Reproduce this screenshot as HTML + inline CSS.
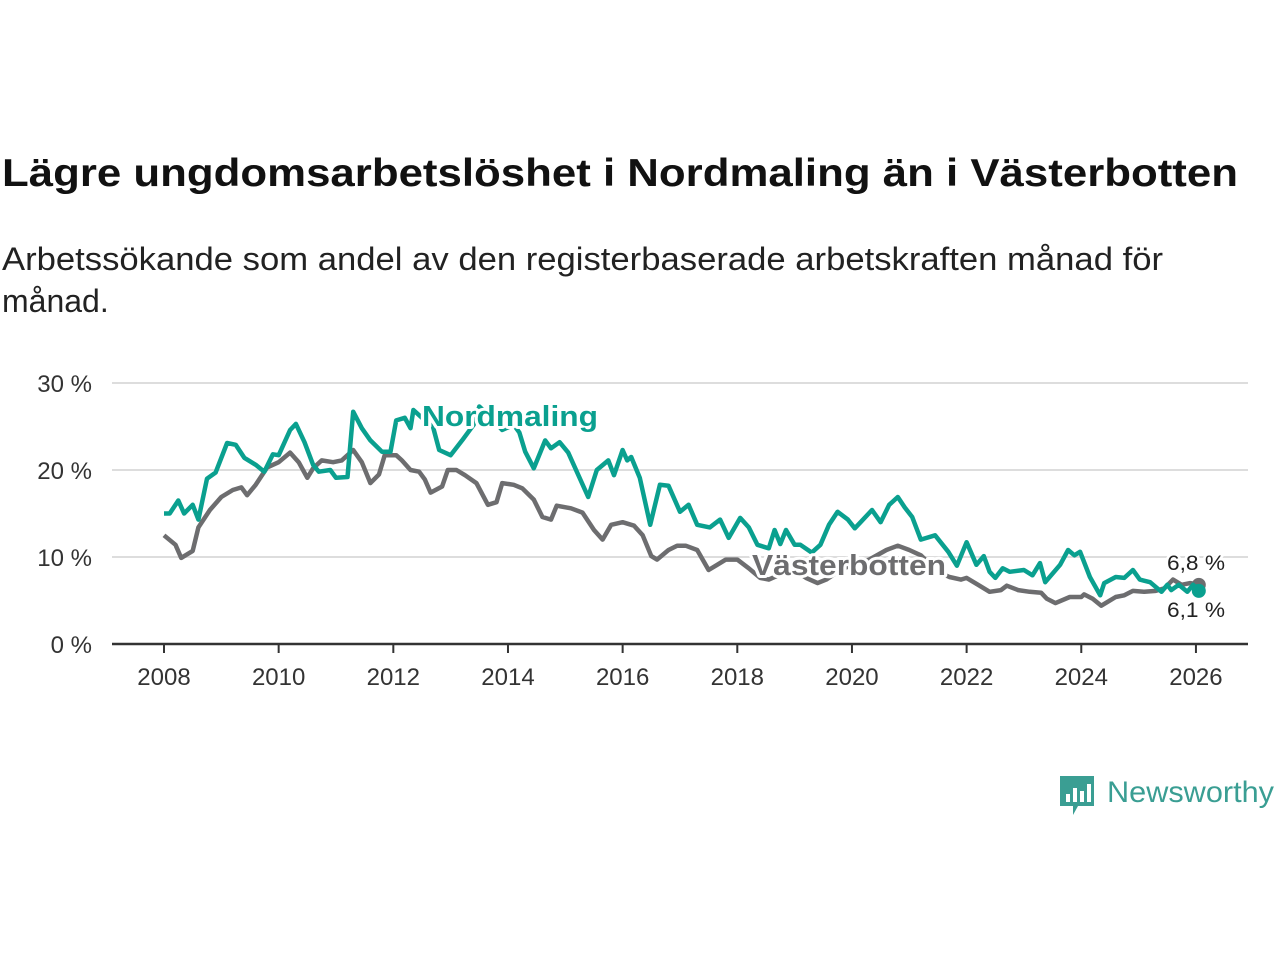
<!DOCTYPE html>
<html><head><meta charset="utf-8"><style>
body{margin:0;background:#fff;width:1280px;height:960px;overflow:hidden}
svg text{font-family:"Liberation Sans",sans-serif}
</style></head><body>
<svg width="1280" height="960">
<text x="2" y="186" font-size="39" font-weight="bold" fill="#111" textLength="1236" lengthAdjust="spacingAndGlyphs">Lägre ungdomsarbetslöshet i Nordmaling än i Västerbotten</text>
<text x="2" y="270" font-size="32" fill="#222" textLength="1161" lengthAdjust="spacingAndGlyphs">Arbetssökande som andel av den registerbaserade arbetskraften månad för</text>
<text x="2" y="312" font-size="32" fill="#222">månad.</text>
<g id="grid"></g><g id="xaxis"></g><g id="lines"></g><g id="labels"></g>
<g>
<path d="M1060 776h34v30h-16l-5 9v-9h-13z" fill="#3a9e93"/>
<rect x="1066" y="794" width="4" height="8" fill="#fff"/><rect x="1073" y="788" width="4" height="14" fill="#fff"/><rect x="1080" y="791" width="4" height="11" fill="#fff"/><rect x="1087" y="784" width="4" height="18" fill="#fff"/>
<text x="1107" y="802" font-size="30" fill="#3a9e93" textLength="167" lengthAdjust="spacingAndGlyphs">Newsworthy</text>
</g>
</svg>
<script>
const yTicks=[0,10,20,30];
const xTicks=[2008,2010,2012,2014,2016,2018,2020,2022,2024,2026];
const nordT=[2008.0,2008.1,2008.25,2008.35,2008.5,2008.6,2008.75,2008.9,2009.1,2009.25,2009.4,2009.6,2009.75,2009.9,2010.0,2010.2,2010.3,2010.45,2010.6,2010.7,2010.9,2011.0,2011.2,2011.3,2011.45,2011.6,2011.8,2011.95,2012.05,2012.2,2012.3,2012.35,2012.5,2012.65,2012.8,2013.0,2013.2,2013.4,2013.5,2013.75,2013.9,2014.1,2014.2,2014.3,2014.45,2014.65,2014.75,2014.9,2015.05,2015.4,2015.55,2015.75,2015.85,2016.0,2016.08,2016.15,2016.3,2016.48,2016.65,2016.8,2017.0,2017.15,2017.3,2017.52,2017.7,2017.85,2018.05,2018.2,2018.35,2018.55,2018.65,2018.75,2018.85,2019.0,2019.1,2019.3,2019.45,2019.6,2019.75,2019.93,2020.05,2020.15,2020.35,2020.5,2020.65,2020.8,2020.92,2021.05,2021.2,2021.45,2021.68,2021.83,2022.0,2022.17,2022.3,2022.4,2022.5,2022.63,2022.75,2023.0,2023.15,2023.28,2023.37,2023.63,2023.77,2023.88,2023.98,2024.15,2024.33,2024.4,2024.6,2024.75,2024.9,2025.02,2025.2,2025.4,2025.5,2025.57,2025.7,2025.85,2025.95,2026.05];
const nordV=[15,15,16.5,15,16,14.3,19,19.7,23.1,22.9,21.4,20.6,19.8,21.8,21.7,24.6,25.3,23.2,20.6,19.8,20,19.1,19.2,26.7,24.8,23.4,22.1,22.1,25.7,26,24.8,26.9,26,26,22.3,21.7,23.4,25.2,27.3,25.7,24.6,25.2,24.3,22.1,20.2,23.4,22.5,23.2,22,16.9,20,21.1,19.4,22.3,21.1,21.5,19.1,13.7,18.3,18.2,15.2,16,13.7,13.4,14.3,12.2,14.5,13.4,11.4,11,13.1,11.5,13.1,11.4,11.4,10.5,11.4,13.7,15.2,14.3,13.3,14,15.4,14,16,16.9,15.7,14.6,12,12.5,10.6,9,11.7,9.1,10.1,8.3,7.6,8.7,8.3,8.5,7.9,9.3,7.1,9.1,10.8,10.2,10.6,7.7,5.6,7,7.7,7.6,8.5,7.4,7.1,6,6.8,6.2,6.8,6,6.8,6.1];
const vastT=[2008.0,2008.2,2008.3,2008.5,2008.6,2008.8,2009.0,2009.2,2009.35,2009.45,2009.6,2009.8,2010.0,2010.2,2010.35,2010.5,2010.6,2010.75,2010.95,2011.1,2011.3,2011.45,2011.6,2011.75,2011.85,2012.05,2012.15,2012.3,2012.45,2012.55,2012.65,2012.85,2012.95,2013.1,2013.25,2013.45,2013.65,2013.8,2013.9,2014.1,2014.25,2014.45,2014.6,2014.75,2014.85,2015.1,2015.3,2015.5,2015.65,2015.8,2016.0,2016.2,2016.35,2016.5,2016.6,2016.8,2016.95,2017.1,2017.3,2017.5,2017.65,2017.8,2018.0,2018.2,2018.4,2018.55,2018.75,2019.0,2019.2,2019.4,2019.55,2019.8,2020.0,2020.3,2020.6,2020.8,2021.0,2021.2,2021.5,2021.7,2021.9,2022.0,2022.2,2022.4,2022.6,2022.7,2022.9,2023.1,2023.3,2023.4,2023.55,2023.8,2024.0,2024.05,2024.2,2024.35,2024.45,2024.6,2024.75,2024.9,2025.1,2025.3,2025.45,2025.6,2025.75,2025.9,2026.05];
const vastV=[12.5,11.4,9.9,10.7,13.4,15.4,16.9,17.7,18,17.1,18.3,20.3,20.9,22,20.9,19.1,20.2,21.1,20.9,21.1,22.3,20.9,18.5,19.5,21.7,21.7,21.1,20,19.8,18.9,17.4,18.1,20,20,19.4,18.5,16,16.3,18.5,18.3,17.9,16.6,14.6,14.3,15.9,15.6,15.1,13.1,12,13.7,14,13.6,12.5,10.1,9.7,10.8,11.3,11.3,10.8,8.5,9.1,9.7,9.7,8.7,7.6,7.4,8,8.5,7.6,7,7.4,8.5,9.1,9.7,10.8,11.3,10.8,10.2,8.3,7.7,7.4,7.6,6.8,6,6.2,6.7,6.2,6,5.9,5.2,4.7,5.4,5.4,5.7,5.2,4.4,4.8,5.4,5.6,6.1,6,6.1,6.4,7.4,6.8,7,6.8];
const NS="http://www.w3.org/2000/svg";
const X=t=>164+(t-2008)*57.33, Y=v=>644-v*8.7;
function mk(tag,at,parent){const e=document.createElementNS(NS,tag);for(const k in at)e.setAttribute(k,at[k]);document.getElementById(parent).appendChild(e);return e;}
yTicks.forEach(v=>{
 const l=mk('line',{x1:112,x2:1248,y1:Y(v),y2:Y(v),stroke:v?'#ddd':'#333','stroke-width':v?2:2.5},'grid');
 
 
 const t=mk('text',{x:92,y:Y(v)+9,'font-size':24,fill:'#333','text-anchor':'end'},'grid');t.textContent=v+' %';
 
 
});
xTicks.forEach(y=>{
 const l=mk('line',{x1:X(y),x2:X(y),y1:644,y2:653,stroke:'#333','stroke-width':2},'xaxis');
 
 
 const t=mk('text',{x:X(y),y:685,'font-size':24,fill:'#333','text-anchor':'middle'},'xaxis');t.textContent=y;
 
 
});
function line(T,V,c,name){
 const d=T.map((t,i)=>(i?'L':'M')+X(t).toFixed(1)+' '+Y(V[i]).toFixed(1)).join('');
 const p=mk('path',{d:d,fill:'none',stroke:c,'stroke-width':4.5,'stroke-linejoin':'round'},'lines');
 
 
 const c2=mk('circle',{cx:X(T[T.length-1]),cy:Y(V[V.length-1]),r:7,fill:c},'lines');
 
 
}
line(vastT,vastV,'#6d6d6f','vasterbotten-line');
line(nordT,nordV,'#0aa08f','nordmaling-line');
function lab(x,y,txt,c,size,bold,name,w){
 const t=mk('text',{x:x-w/2,y:y,'font-size':size,'font-weight':bold?'bold':'normal',fill:c,textLength:w,lengthAdjust:'spacingAndGlyphs',stroke:'#fff','stroke-width':bold?6:5,'paint-order':'stroke','stroke-linejoin':'round'},'labels');
 t.textContent=txt;
 
 
}
lab(510,426,'Nordmaling','#0aa08f',29,true,'nordmaling-label',176);
lab(849,575,'Västerbotten','#6d6d6f',29,true,'vasterbotten-label',194);
lab(1196,570,'6,8 %','#222',21,false,'vasterbotten-end-value',58);
lab(1196,617,'6,1 %','#222',21,false,'nordmaling-end-value',58);
</script>
</body></html>
